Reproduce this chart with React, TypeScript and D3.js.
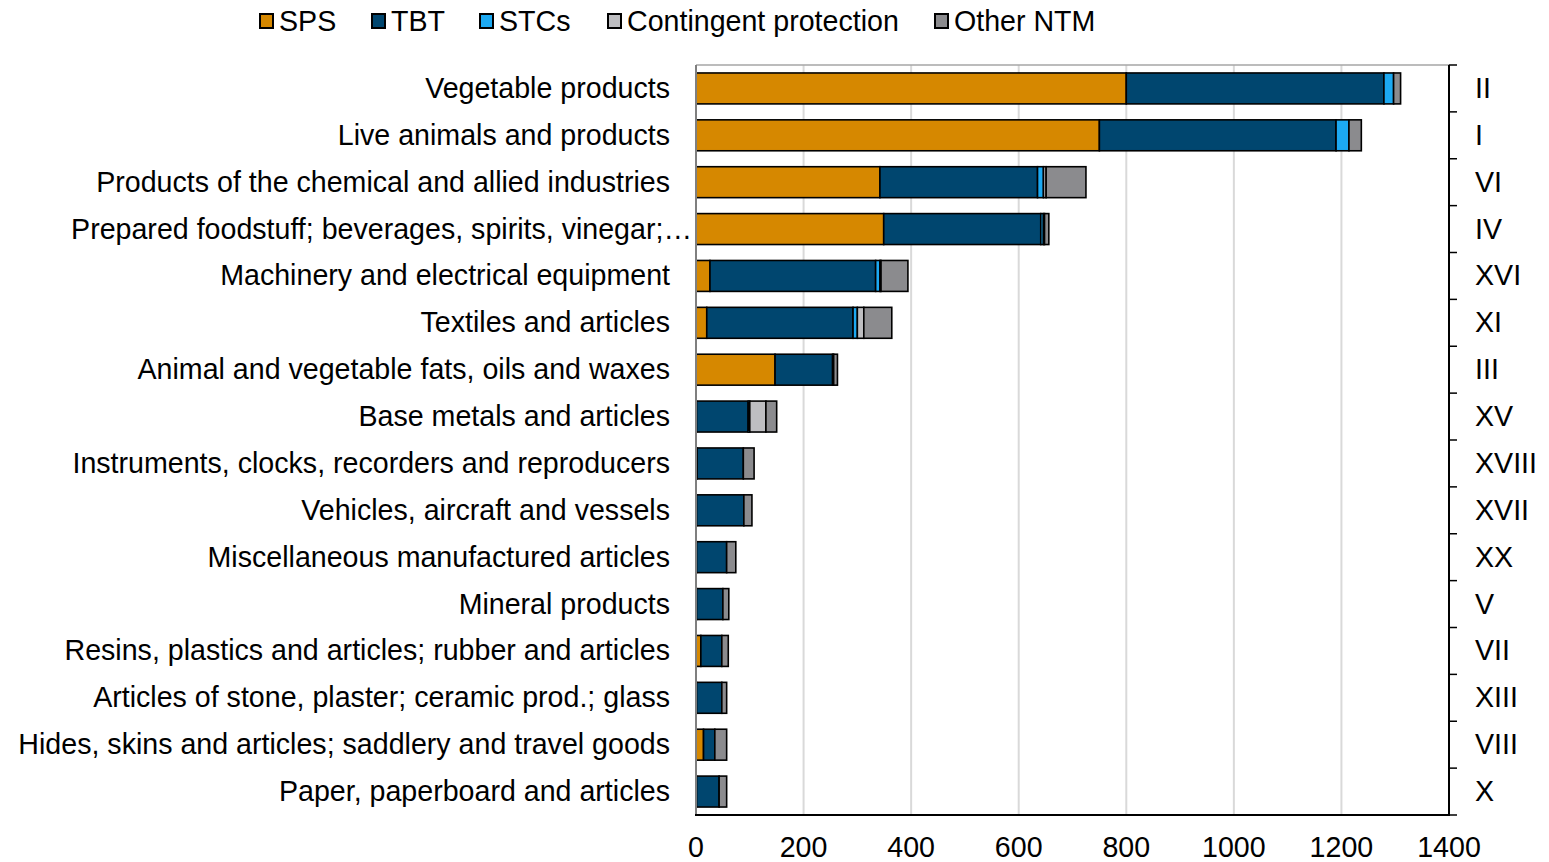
import React from "react";
import * as d3 from "d3";

const categories = [
  "Vegetable products",
  "Live animals and products",
  "Products of the chemical and allied industries",
  "Prepared foodstuff; beverages, spirits, vinegar;…",
  "Machinery and electrical equipment",
  "Textiles and articles",
  "Animal and vegetable fats, oils and waxes",
  "Base metals and articles",
  "Instruments, clocks, recorders and reproducers",
  "Vehicles, aircraft and vessels",
  "Miscellaneous manufactured articles",
  "Mineral products",
  "Resins, plastics and articles; rubber and articles",
  "Articles of stone, plaster; ceramic prod.; glass",
  "Hides, skins and articles; saddlery and travel goods",
  "Paper, paperboard and articles",
];
const sections = ["II", "I", "VI", "IV", "XVI", "XI", "III", "XV", "XVIII", "XVII", "XX", "V", "VII", "XIII", "VIII", "X"];

const seriesNames = ["SPS", "TBT", "STCs", "Contingent protection", "Other NTM"];
const sps = [800, 750, 342, 349, 26, 20, 147, 1, 2, 1, 1, 1, 9, 1, 14, 1];
const tbt = [479, 440, 293, 292, 308, 272, 107, 96, 86, 88, 56, 49, 39, 47, 21, 42];
const stcs = [18, 24, 11, 5, 8, 8, 2, 3, 0, 0, 0, 0, 0, 0, 0, 0];
const contingent = [0, 0, 5, 2, 2, 12, 0, 30, 0, 0, 0, 0, 0, 0, 0, 0];
const otherNtm = [13, 23, 74, 8, 50, 52, 7, 20, 20, 15, 17, 11, 12, 9, 22, 14];
const xTicks = [0, 200, 400, 600, 800, 1000, 1200, 1400];

const colors = ["#D68800", "#00466F", "#1CA9F2", "#BEBEC1", "#8B8B8E"];

export default function App() {
  const W = 1549, H = 862;
  const left = 696, right = 1449, top = 65, bottom = 815;
  const font = "'Liberation Sans', Arial, sans-serif";
  const fs = 28.6;

  const x = d3.scaleLinear().domain([0, 1400]).range([left, right]);
  const y = d3.scaleBand<string>().domain(categories).range([top, bottom]).paddingInner(0.34).paddingOuter(0.17);
  const band = (bottom - top) / categories.length;

  const rows = categories.map((c, i) => ({
    cat: c,
    SPS: sps[i],
    TBT: tbt[i],
    STCs: stcs[i],
    "Contingent protection": contingent[i],
    "Other NTM": otherNtm[i],
  }));
  const stack = d3.stack<any>().keys(seriesNames)(rows);

  const legendX = [260, 372, 480, 608, 935];

  return (
    <svg width={W} height={H} style={{ position: "absolute", left: 0, top: 0 }} fontFamily={font}>
      <rect width={W} height={H} fill="#fff" />
      {xTicks.slice(1).map((t) => (
        <line key={t} x1={x(t)} x2={x(t)} y1={top} y2={bottom} stroke="#D9D9D9" strokeWidth={2} />
      ))}
      <line x1={left} x2={right} y1={top} y2={top} stroke="#A6A6A6" strokeWidth={1.5} />
      {stack.map((s, si) => (
        <g key={s.key} fill={colors[si]} stroke="#000" strokeWidth={1.6}>
          {s.map((d, i) =>
            d[1] - d[0] > 0 ? (
              <rect key={i} x={x(d[0])} y={y(categories[i])} width={x(d[1]) - x(d[0])} height={y.bandwidth()} />
            ) : null
          )}
        </g>
      ))}
      <line x1={left} x2={left} y1={top} y2={bottom} stroke="#7F7F7F" strokeWidth={2} />
      <line x1={left - 1} x2={right + 1} y1={bottom} y2={bottom} stroke="#000" strokeWidth={2} />
      <line x1={right} x2={right} y1={top} y2={bottom} stroke="#000" strokeWidth={2} />
      {d3.range(categories.length + 1).map((i) => (
        <line key={i} x1={right} x2={right + 8} y1={top + i * band} y2={top + i * band} stroke="#000" strokeWidth={1.5} />
      ))}
      {xTicks.map((t) => (
        <text key={t} x={x(t)} y={857} textAnchor="middle" fontSize={fs} fill="#000">
          {t}
        </text>
      ))}
      {categories.map((c) => (
        <text
          key={c}
          x={c.endsWith("…") ? 692 : 670}
          y={y(c)! + y.bandwidth() / 2}
          dy="0.33em"
          textAnchor="end"
          fontSize={fs}
          fill="#000"
        >
          {c}
        </text>
      ))}
      {sections.map((s, i) => (
        <text key={s + i} x={1475} y={y(categories[i])! + y.bandwidth() / 2} dy="0.33em" fontSize={fs} fill="#000">
          {s}
        </text>
      ))}
      {seriesNames.map((n, i) => (
        <g key={n}>
          <rect x={legendX[i]} y={14} width={13} height={14} fill={colors[i]} stroke="#000" strokeWidth={2} />
          <text x={legendX[i] + 19} y={21} dy="0.35em" fontSize={fs} fill="#000">
            {n}
          </text>
        </g>
      ))}
    </svg>
  );
}
